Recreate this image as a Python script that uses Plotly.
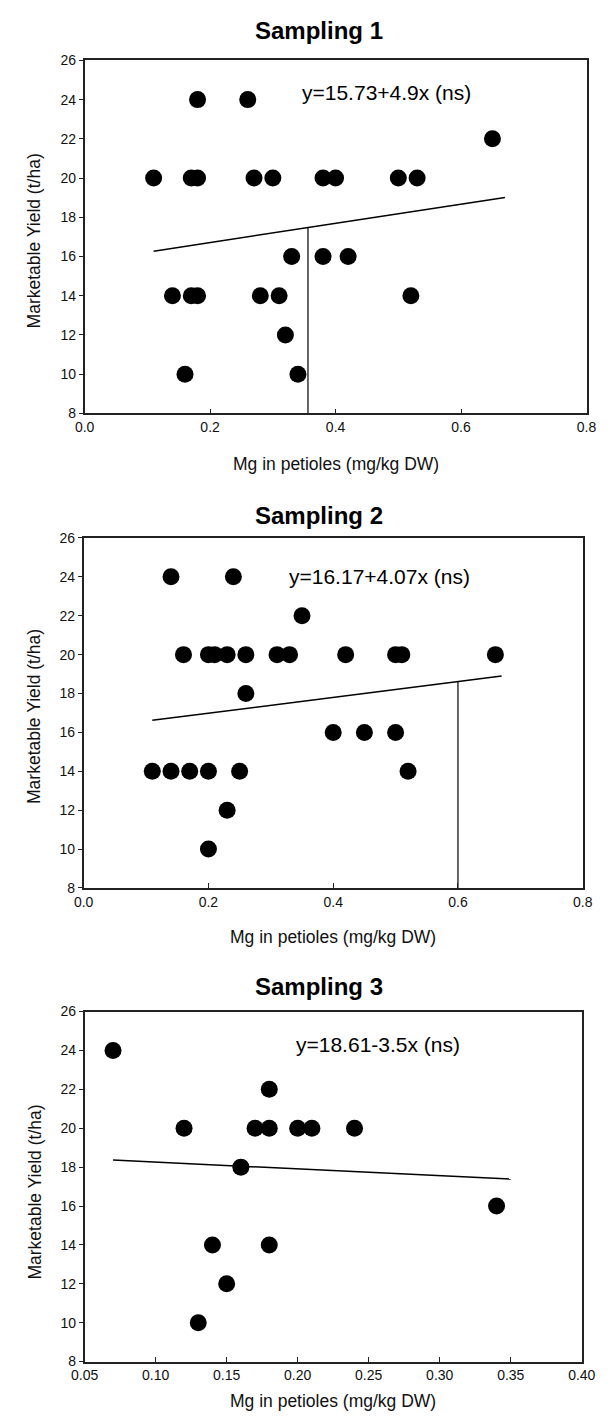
import plotly.graph_objects as go

# ---------------- data ----------------
s1_x = [0.18, 0.26, 0.65,
        0.11, 0.17, 0.18, 0.27, 0.30, 0.38, 0.40, 0.50, 0.53,
        0.33, 0.38, 0.42,
        0.14, 0.17, 0.18, 0.28, 0.31, 0.52,
        0.32,
        0.16, 0.34]
s1_y = [24, 24, 22,
        20, 20, 20, 20, 20, 20, 20, 20, 20,
        16, 16, 16,
        14, 14, 14, 14, 14, 14,
        12,
        10, 10]

s2_x = [0.14, 0.24,
        0.35,
        0.16, 0.20, 0.21, 0.23, 0.26, 0.31, 0.33, 0.42, 0.50, 0.51, 0.66,
        0.26,
        0.40, 0.45, 0.50,
        0.11, 0.14, 0.17, 0.20, 0.25, 0.52,
        0.23,
        0.20]
s2_y = [24, 24,
        22,
        20, 20, 20, 20, 20, 20, 20, 20, 20, 20, 20,
        18,
        16, 16, 16,
        14, 14, 14, 14, 14, 14,
        12,
        10]

s3_x = [0.07, 0.18, 0.12, 0.17, 0.18, 0.20, 0.21, 0.24, 0.16, 0.34, 0.14, 0.18, 0.15, 0.13]
s3_y = [24, 22, 20, 20, 20, 20, 20, 20, 18, 16, 14, 14, 12, 10]

fit1_x = [0.11, 0.67]
fit1_y = [16.27, 19.01]
cut1_x = [0.356, 0.356]
cut1_y = [8, 17.47]

fit2_x = [0.11, 0.67]
fit2_y = [16.62, 18.90]
cut2_x = [0.60, 0.60]
cut2_y = [8, 18.61]

fit3_x = [0.07, 0.35]
fit3_y = [18.365, 17.385]

titles = ["Sampling 1", "Sampling 2", "Sampling 3"]
equations = ["y=15.73+4.9x (ns)", "y=16.17+4.07x (ns)", "y=18.61-3.5x (ns)"]
x_title = "Mg in petioles (mg/kg DW)"
y_title = "Marketable Yield (t/ha)"

# ---------------- layout geometry (pixels) ----------------
W, H = 612, 1421
panels = [
    dict(l=74, r=600, t=53, b=410, xr=[0, 0.8], dt=0.2, fmt=".1f",
         title_y=23, eq=(390, 85), xt_y=461, yt_y=236),
    dict(l=73, r=596, t=536, b=890, xr=[0, 0.8], dt=0.2, fmt=".1f",
         title_y=513, eq=(383, 575), xt_y=940, yt_y=717),
    dict(l=74, r=595, t=1015, b=1369, xr=[0.05, 0.40], dt=0.05, fmt=".2f",
         title_y=990, eq=(381, 1048), xt_y=1409, yt_y=1198),
]

FONT = "Arial, Liberation Sans, Helvetica, sans-serif"
AX = "#222222"

fig = go.Figure()
series = [(s1_x, s1_y), (s2_x, s2_y), (s3_x, s3_y)]
fits = [(fit1_x, fit1_y), (fit2_x, fit2_y), (fit3_x, fit3_y)]
cuts = [(cut1_x, cut1_y), (cut2_x, cut2_y), None]

annotations = []
for i, p in enumerate(panels):
    n = "" if i == 0 else str(i + 1)
    xa, ya = "x" + n, "y" + n
    fx, fy = fits[i]
    fig.add_trace(go.Scatter(x=fx, y=fy, mode="lines", xaxis=xa, yaxis=ya,
                             line=dict(color="black", width=1.5), showlegend=False))
    if cuts[i] is not None:
        cx, cy = cuts[i]
        fig.add_trace(go.Scatter(x=cx, y=cy, mode="lines", xaxis=xa, yaxis=ya,
                                 line=dict(color="black", width=1.2), showlegend=False))
    sx, sy = series[i]
    fig.add_trace(go.Scatter(x=sx, y=sy, mode="markers", xaxis=xa, yaxis=ya,
                             marker=dict(color="black", size=17, line=dict(width=0)),
                             showlegend=False))

    xd = [p["l"] / W, p["r"] / W]
    yd = [1 - p["b"] / H, 1 - p["t"] / H]
    fig.layout["xaxis" + n] = dict(
        domain=xd, range=p["xr"], dtick=p["dt"], tick0=p["xr"][0], tickformat=p["fmt"],
        ticks="inside", ticklen=5, tickwidth=1, tickcolor=AX,
        showline=True, linecolor=AX, linewidth=1.5, mirror=True,
        showgrid=False, zeroline=False, anchor=ya,
        tickfont=dict(family=FONT, size=14, color="#111111"))
    fig.layout["yaxis" + n] = dict(
        domain=yd, range=[8, 26], dtick=2, tick0=8,
        ticks="outside", ticklen=4, tickwidth=1, tickcolor=AX,
        showline=True, linecolor=AX, linewidth=1.5, mirror=True,
        showgrid=False, zeroline=False, anchor=xa,
        tickfont=dict(family=FONT, size=14, color="#111111"))

    annotations.append(dict(text="<b>" + titles[i] + "</b>", xref="paper", yref="paper",
                            x=320 / W, y=1 - p["title_y"] / H, showarrow=False,
                            xanchor="center", yanchor="middle",
                            font=dict(family=FONT, size=24, color="black")))
    annotations.append(dict(text=equations[i], xref="paper", yref="paper",
                            x=p["eq"][0] / W, y=1 - p["eq"][1] / H, showarrow=False,
                            xanchor="center", yanchor="middle",
                            font=dict(family=FONT, size=21, color="black")))
    annotations.append(dict(text=x_title, xref="paper", yref="paper",
                            x=(p["l"] + p["r"]) / 2 / W, y=1 - p["xt_y"] / H, showarrow=False,
                            xanchor="center", yanchor="middle",
                            font=dict(family=FONT, size=17.5, color="#111111")))
    annotations.append(dict(text=y_title, xref="paper", yref="paper", textangle=-90,
                            x=21 / W, y=1 - p["yt_y"] / H, showarrow=False,
                            xanchor="center", yanchor="middle",
                            font=dict(family=FONT, size=17.5, color="#111111")))

fig.update_layout(width=W, height=H, margin=dict(l=0, r=0, t=0, b=0),
                  paper_bgcolor="white", plot_bgcolor="white",
                  annotations=annotations)

fig.write_html("out.html")
